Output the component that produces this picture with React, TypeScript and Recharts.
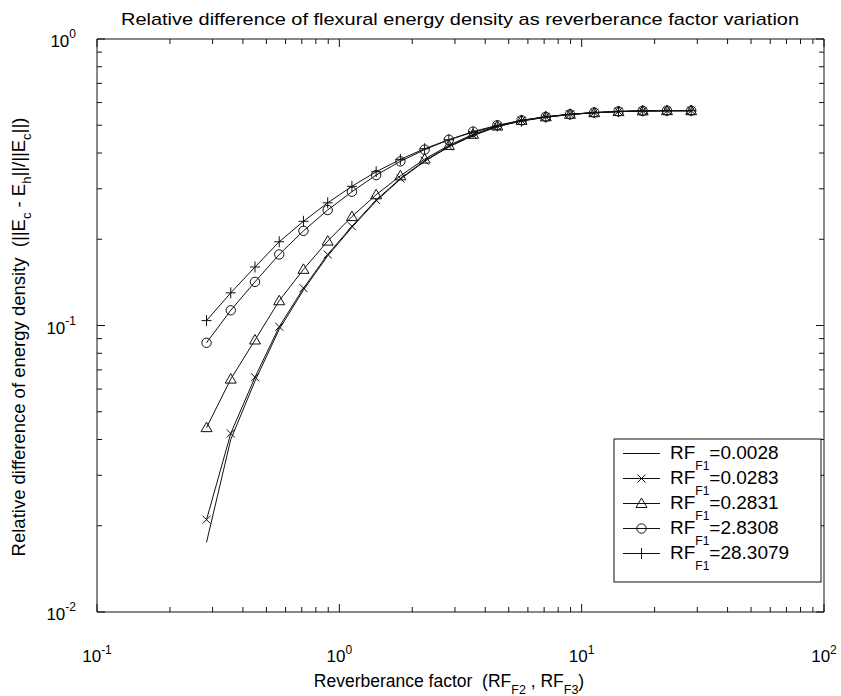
import { Line, LineChart, ReferenceLine, XAxis, YAxis } from "recharts";

const FONT = "'Liberation Sans', Arial, Helvetica, sans-serif";
const INK = "#111";

// reverberance factor RF_F2 = RF_F3 (x axis)
const rfF2 = [
  0.2831, 0.3564, 0.4487, 0.5649, 0.7112, 0.8953, 1.127, 1.4189, 1.7863, 2.2488, 2.8308,
  3.5637, 4.4865, 5.6482, 7.1107, 8.9518, 11.2697, 14.1878, 17.8614, 22.4862, 28.3079,
];

// relative difference, one list per RF_F1
const rf0028 = [
  0.0175, 0.04, 0.064, 0.097, 0.133, 0.175, 0.22, 0.272, 0.324, 0.374, 0.42,
  0.46, 0.494, 0.518, 0.534, 0.545, 0.553, 0.558, 0.561, 0.562, 0.562,
];
const rf0283 = [
  0.021, 0.042, 0.066, 0.099, 0.135, 0.177, 0.222, 0.274, 0.326, 0.376, 0.422,
  0.462, 0.495, 0.519, 0.535, 0.546, 0.553, 0.558, 0.561, 0.562, 0.562,
];
const rf2831 = [
  0.044, 0.065, 0.089, 0.122, 0.157, 0.197, 0.24, 0.286, 0.333, 0.381, 0.425,
  0.465, 0.497, 0.52, 0.535, 0.546, 0.553, 0.558, 0.561, 0.562, 0.562,
];
const rf28308 = [
  0.087, 0.113, 0.142, 0.177, 0.214, 0.253, 0.293, 0.335, 0.374, 0.411, 0.445,
  0.475, 0.5, 0.52, 0.535, 0.546, 0.554, 0.559, 0.561, 0.562, 0.562,
];
const rf283079 = [
  0.104, 0.13, 0.16, 0.196, 0.231, 0.268, 0.306, 0.344, 0.38, 0.414, 0.445,
  0.473, 0.497, 0.517, 0.533, 0.545, 0.553, 0.558, 0.561, 0.562, 0.562,
];

const seriesNames = ["0.0028", "0.0283", "0.2831", "2.8308", "28.3079"];
const seriesMarkers = ["none", "x", "triangle", "circle", "plus"];
const seriesValues = [rf0028, rf0283, rf2831, rf28308, rf283079];

const xMajor = [0.1, 1, 10, 100];
const xMajorLabels = ["-1", "0", "1", "2"];
const xTicks = [
  0.1, 0.2, 0.3, 0.4, 0.5, 0.6, 0.7, 0.8, 0.9, 1, 2, 3, 4, 5, 6, 7, 8, 9, 10,
  20, 30, 40, 50, 60, 70, 80, 90, 100,
];
const yMajor = [0.01, 0.1, 1];
const yMajorLabels = ["-2", "-1", "0"];
const yTicks = [
  0.01, 0.02, 0.03, 0.04, 0.05, 0.06, 0.07, 0.08, 0.09, 0.1, 0.2, 0.3, 0.4, 0.5,
  0.6, 0.7, 0.8, 0.9, 1,
];

// plot box
const LEFT = 97;
const RIGHT = 824;
const TOP = 39;
const BOTTOM = 612;
const W = 841;
const H = 696;

const near = (a: number, b: number) => Math.abs(a - b) < 1e-9;

function Marker({ kind, cx, cy }: { kind: string; cx: number; cy: number }) {
  const s = { stroke: INK, strokeWidth: 1, fill: "none" };
  if (kind === "x")
    return (
      <g {...s}>
        <line x1={cx - 4} y1={cy - 4} x2={cx + 4} y2={cy + 4} />
        <line x1={cx - 4} y1={cy + 4} x2={cx + 4} y2={cy - 4} />
      </g>
    );
  if (kind === "triangle")
    return <polygon {...s} points={`${cx},${cy - 5.5} ${cx + 5.5},${cy + 4} ${cx - 5.5},${cy + 4}`} />;
  if (kind === "circle") return <circle {...s} cx={cx} cy={cy} r={4.7} />;
  if (kind === "plus")
    return (
      <g {...s}>
        <line x1={cx - 5} y1={cy} x2={cx + 5} y2={cy} />
        <line x1={cx} y1={cy - 5.5} x2={cx} y2={cy + 5.5} />
      </g>
    );
  return null;
}

function XTick(props: any) {
  const { x, payload } = props;
  const i = xMajor.findIndex((v) => near(v, payload.value));
  const len = i >= 0 ? 8 : 5;
  return (
    <g>
      <line x1={x} x2={x} y1={BOTTOM} y2={BOTTOM - len} stroke={INK} />
      <line x1={x} x2={x} y1={TOP} y2={TOP + len} stroke={INK} />
      {i >= 0 && (
        <text x={x} y={662} textAnchor="middle" fontSize={17} fontFamily={FONT} fill="#000">
          10
          <tspan dy={-8} fontSize={12}>
            {xMajorLabels[i]}
          </tspan>
        </text>
      )}
    </g>
  );
}

function YTick(props: any) {
  const { y, payload } = props;
  const i = yMajor.findIndex((v) => near(v, payload.value));
  const len = i >= 0 ? 8 : 5;
  return (
    <g>
      <line x1={LEFT} x2={LEFT + len} y1={y} y2={y} stroke={INK} />
      <line x1={RIGHT} x2={RIGHT - len} y1={y} y2={y} stroke={INK} />
      {i >= 0 && (
        <text x={76} y={y + 8} textAnchor="end" fontSize={17} fontFamily={FONT} fill="#000">
          10
          <tspan dy={-9} fontSize={12}>
            {yMajorLabels[i]}
          </tspan>
        </text>
      )}
    </g>
  );
}

function LegendBox() {
  return (
    <svg width={210} height={146} style={{ position: "absolute", left: 613, top: 438 }}>
      <rect x={1} y={1} width={207} height={143} fill="#fff" stroke={INK} />
      {seriesNames.map((name, i) => {
        const base = 21 + 25 * i;
        const mid = base - 5.5;
        return (
          <g key={name}>
            <line x1={10} x2={47} y1={mid} y2={mid} stroke={INK} />
            <Marker kind={seriesMarkers[i]} cx={28.5} cy={mid} />
            <text x={57} y={base} fontSize={19} fontFamily={FONT} fill="#000">
              RF
              <tspan dy={11} fontSize={12}>
                F1
              </tspan>
              <tspan dy={-11}>={name}</tspan>
            </text>
          </g>
        );
      })}
    </svg>
  );
}

export default function App() {
  return (
    <div style={{ position: "absolute", left: 0, top: 0, width: W, height: H, background: "#fff" }}>
      <LineChart width={W} height={H} margin={{ top: TOP, right: W - RIGHT, bottom: 0, left: 0 }}>
        <XAxis
          dataKey="x"
          type="number"
          scale="log"
          domain={[0.1, 100]}
          ticks={xTicks}
          interval={0}
          height={H - BOTTOM}
          tickLine={false}
          tickSize={0}
          tickMargin={0}
          tick={<XTick />}
          axisLine={{ stroke: INK }}
          allowDataOverflow
        />
        <YAxis
          dataKey="y"
          type="number"
          scale="log"
          domain={[0.01, 1]}
          ticks={yTicks}
          interval={0}
          width={LEFT}
          tickLine={false}
          tickSize={0}
          tickMargin={0}
          tick={<YTick />}
          axisLine={{ stroke: INK }}
          allowDataOverflow
        />
        <ReferenceLine y={1} stroke={INK} />
        <ReferenceLine x={100} stroke={INK} />
        {seriesValues.map((vals, s) => (
          <Line
            key={seriesNames[s]}
            data={rfF2.map((x, i) => ({ x, y: vals[i] }))}
            dataKey="y"
            type="linear"
            stroke={INK}
            strokeWidth={1}
            isAnimationActive={false}
            activeDot={false}
            dot={
              seriesMarkers[s] === "none"
                ? false
                : (p: any) => (
                    <Marker key={`${s}-${p.index}`} kind={seriesMarkers[s]} cx={p.cx} cy={p.cy} />
                  )
            }
          />
        ))}
      </LineChart>
      <svg width={W} height={H} style={{ position: "absolute", left: 0, top: 0, pointerEvents: "none" }}>
        <text
          x={460}
          y={25}
          textAnchor="middle"
          fontSize={17}
          fontFamily={FONT}
          fill="#000"
          textLength={678}
          lengthAdjust="spacingAndGlyphs"
        >
          Relative difference of flexural energy density as reverberance factor variation
        </text>
        <text x={449} y={687} textAnchor="middle" fontSize={17.5} fontFamily={FONT} fill="#000" style={{ whiteSpace: "pre" }}>
          {"Reverberance factor  (RF"}
          <tspan dy={7} fontSize={12.5}>F2</tspan>
          <tspan dy={-7}>{" , RF"}</tspan>
          <tspan dy={7} fontSize={12.5}>F3</tspan>
          <tspan dy={-7}>)</tspan>
        </text>
        <text
          x={25}
          y={337}
          textAnchor="middle"
          fontSize={18.5}
          fontFamily={FONT}
          fill="#000"
          transform="rotate(-90, 25, 337)"
          style={{ whiteSpace: "pre" }}
        >
          {"Relative difference of energy density  (||E"}
          <tspan dy={6} fontSize={13}>c</tspan>
          <tspan dy={-6}>{" - E"}</tspan>
          <tspan dy={6} fontSize={13}>h</tspan>
          <tspan dy={-6}>{"||/||E"}</tspan>
          <tspan dy={6} fontSize={13}>c</tspan>
          <tspan dy={-6}>{"||)"}</tspan>
        </text>
      </svg>
      <LegendBox />
    </div>
  );
}
